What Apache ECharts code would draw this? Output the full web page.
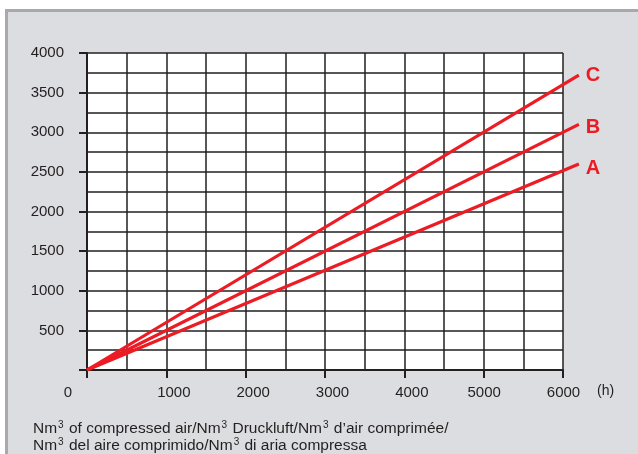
<!DOCTYPE html>
<html>
<head>
<meta charset="utf-8">
<script src="https://cdn.jsdelivr.net/npm/echarts@6/dist/echarts.min.js"></script>
<style>
  html, body { margin: 0; padding: 0; background: #fff; }
  #chart { width: 638px; height: 454px; }
</style>
</head>
<body>
<div id="chart"></div>
<script>
// axis ticks (h and Nm3)
const xTicks = [0, 1000, 2000, 3000, 4000, 5000, 6000];
const yTicks = [0, 500, 1000, 1500, 2000, 2500, 3000, 3500, 4000];

// each line runs from the origin to a little past the last grid column
const seriesNames = ['A', 'B', 'C'];
const hours = [0, 6200];
const valuesA = [0, 2600];
const valuesB = [0, 3100];
const valuesC = [0, 3720];

const xUnit = '(h)';
const footer = [
  'Nm³ of compressed air/Nm³ Druckluft/Nm³ d\u2019air comprimée/',
  'Nm³ del aire comprimido/Nm³ di aria compressa'
];

const ink = '#231f20';
const red = '#ec1c24';
const font = 'Liberation Sans, Arial, sans-serif';

// plot box in pixels
const plotLeft = 87;
const plotTop = 53;
const plotWidth = 476;
const plotHeight = 317;

const xMax = xTicks[xTicks.length - 1];
const lineMax = hours[hours.length - 1];

const chart = echarts.init(document.getElementById('chart'));

const pairs = (ys) => hours.map((h, i) => [h, ys[i]]);

const makeLine = (name, ys, dy) => ({
  name: name,
  type: 'line',
  xAxisIndex: 1,
  yAxisIndex: 1,
  data: pairs(ys),
  showSymbol: false,
  silent: true,
  lineStyle: { color: red, width: 3.2 },
  endLabel: {
    show: true,
    formatter: '{a}',
    color: red,
    fontFamily: font,
    fontWeight: 'bold',
    fontSize: 20,
    distance: 7,
    offset: [0, dy]
  }
});

const xLabel = (v) => {
  if (v === 0) return '{z|0}';
  if (v < 5000) return '{n|' + v + '}';
  return '{e|' + v + '}';
};

const labelText = { fontFamily: font, fontSize: 15, color: ink };

chart.setOption({
  backgroundColor: '#fff',
  animation: false,
  graphic: [
    {
      type: 'rect',
      z: -10,
      shape: { x: 6.5, y: 10.5, width: 700, height: 500 },
      style: { fill: '#dcdde0', stroke: '#a8a9ac', lineWidth: 3 }
    },
    {
      type: 'text',
      left: 597,
      top: 384,
      style: { text: xUnit, fill: ink, font: '14px ' + font }
    },
    {
      type: 'text',
      left: 33,
      top: 420,
      style: {
        text: footer.map((l) => l.replace(/³/g, '{s|3}')).join('\n'),
        fill: ink,
        font: '15.5px ' + font,
        lineHeight: 17,
        rich: {
          s: { fontSize: 10, fontFamily: font, fill: ink, verticalAlign: 'top', lineHeight: 17, padding: [0, 1, 0, 1] }
        }
      }
    }
  ],
  grid: [
    {
      left: plotLeft,
      top: plotTop,
      width: plotWidth,
      height: plotHeight,
      show: true,
      backgroundColor: '#fff',
      borderWidth: 0
    },
    {
      // same box, stretched so the lines can run past 6000 h
      left: plotLeft,
      top: plotTop,
      width: plotWidth * lineMax / xMax,
      height: plotHeight
    }
  ],
  xAxis: [
    {
      type: 'value',
      gridIndex: 0,
      min: xTicks[0],
      max: xMax,
      interval: xTicks[1] - xTicks[0],
      axisLine: { show: true, onZero: false, lineStyle: { color: ink, width: 2 } },
      axisTick: { show: true, length: 8, lineStyle: { color: ink, width: 2 } },
      axisLabel: {
        margin: 15,
        color: ink,
        fontFamily: font,
        fontSize: 15,
        formatter: xLabel,
        rich: {
          z: Object.assign({ padding: [0, 38, 0, 0] }, labelText),
          n: Object.assign({ padding: [0, 0, 0, 15] }, labelText),
          e: Object.assign({ padding: [0, 0, 0, 1] }, labelText)
        }
      },
      splitLine: { show: true, lineStyle: { color: ink, width: 1.5 } },
      minorTick: { show: false, splitNumber: 2 },
      minorSplitLine: { show: true, lineStyle: { color: ink, width: 1.5 } }
    },
    {
      type: 'value',
      gridIndex: 1,
      min: 0,
      max: lineMax,
      show: false
    }
  ],
  yAxis: [
    {
      type: 'value',
      gridIndex: 0,
      min: yTicks[0],
      max: yTicks[yTicks.length - 1],
      interval: yTicks[1] - yTicks[0],
      axisLine: { show: true, onZero: false, lineStyle: { color: ink, width: 2 } },
      axisTick: { show: true, length: 8, lineStyle: { color: ink, width: 2 } },
      axisLabel: {
        margin: 23,
        color: ink,
        fontFamily: font,
        fontSize: 15,
        formatter: (v) => (v === 0 ? '' : String(v))
      },
      splitLine: { show: true, lineStyle: { color: ink, width: 1.5 } },
      minorTick: { show: false, splitNumber: 2 },
      minorSplitLine: { show: true, lineStyle: { color: ink, width: 1.5 } }
    },
    {
      type: 'value',
      gridIndex: 1,
      min: yTicks[0],
      max: yTicks[yTicks.length - 1],
      show: false
    }
  ],
  series: [
    makeLine(seriesNames[0], valuesA, 5),
    makeLine(seriesNames[1], valuesB, 3),
    makeLine(seriesNames[2], valuesC, 0)
  ]
});
</script>
</body>
</html>
